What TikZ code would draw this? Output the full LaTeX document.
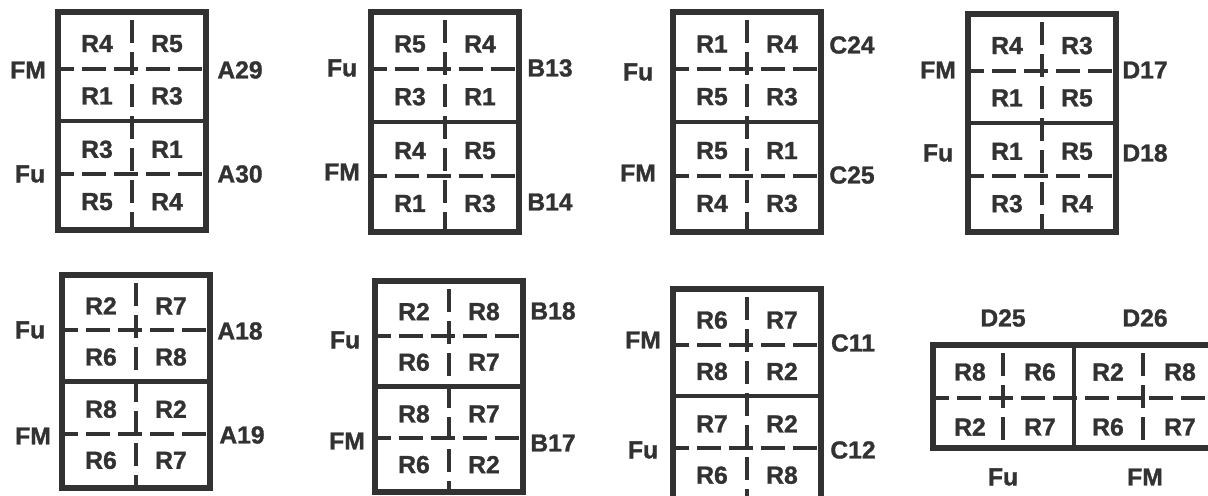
\documentclass[tikz,border=0pt]{standalone}
\usepackage{fontspec}
\setmainfont{Liberation Sans}[BoldFeatures={FakeBold=1.2}]
\usepackage{tikz}
\definecolor{ink}{RGB}{50,50,50}
\tikzset{
  frame/.style={draw=ink, line width=5pt},
  split/.style={draw=ink, line width=3.4pt},
  hcut/.style={draw=ink, line width=3pt, dash pattern=on 18pt off 6pt, dash phase=6pt},
  vcut/.style={draw=ink, line width=2.8pt, dash pattern=on 17pt off 7pt, dash phase=18pt},
  cell/.style={text=ink, font=\fontsize{18.5}{20}\selectfont\bfseries, inner sep=0pt},
  tag/.style={cell},
}

\begin{document}
\begin{tikzpicture}[x=0.75pt, y=-0.75pt]
  \useasboundingbox (0,0) rectangle (1208,496);
  \clip (0,0) rectangle (1208,496);

  % upright plates: left, top, height, then the cells row by row
  \foreach \px/\py/\ph/\ra/\rb/\rc/\rd/\re/\rf/\rg/\rh [count=\i] in {
      58/12/218/R4/R5/R1/R3/R3/R1/R5/R4,
      371/12/220/R5/R4/R3/R1/R4/R5/R1/R3,
      673/12/220/R1/R4/R5/R3/R5/R1/R4/R3,
      968/14/218/R4/R3/R1/R5/R1/R5/R3/R4,
      62/275/213/R2/R7/R6/R8/R8/R2/R6/R7,
      375/281/211/R2/R8/R6/R7/R8/R7/R6/R2,
      673/289/214/R6/R7/R8/R2/R7/R2/R6/R8}
  {
    \draw[vcut] (\px+74,\py) -- (\px+74,\py+\ph);
    \draw[hcut] (\px,\py+0.26*\ph) -- (\px+148,\py+0.26*\ph);
    \draw[hcut] (\px,\py+0.745*\ph) -- (\px+148,\py+0.745*\ph);
    \draw[split] (\px,\py+0.5*\ph) -- (\px+148,\py+0.5*\ph);
    \draw[frame] (\px,\py) rectangle (\px+148,\py+\ph);
    \node[cell] (p\i-1) at (\px+39,\py+0.145*\ph) {\ra};
    \node[cell] (p\i-2) at (\px+109,\py+0.145*\ph) {\rb};
    \node[cell] (p\i-3) at (\px+39,\py+0.385*\ph) {\rc};
    \node[cell] (p\i-4) at (\px+109,\py+0.385*\ph) {\rd};
    \node[cell] (p\i-5) at (\px+39,\py+0.63*\ph) {\re};
    \node[cell] (p\i-6) at (\px+109,\py+0.63*\ph) {\rf};
    \node[cell] (p\i-7) at (\px+39,\py+0.87*\ph) {\rg};
    \node[cell] (p\i-8) at (\px+109,\py+0.87*\ph) {\rh};
  }

  % flat plate D25/D26
  \draw[vcut] (1003,345) -- (1003,448);
  \draw[vcut] (1143,345) -- (1143,448);
  \draw[hcut] (933,398) -- (1215,398);
  \draw[split] (1074,345) -- (1074,448);
  \draw[frame] (933,345) rectangle (1215,448);
  \node[cell] (q1) at (970,372) {R8};
  \node[cell] (q2) at (1040,372) {R6};
  \node[cell] (q3) at (1108,372) {R2};
  \node[cell] (q4) at (1180,372) {R8};
  \node[cell] (q5) at (970,427) {R2};
  \node[cell] (q6) at (1040,427) {R7};
  \node[cell] (q7) at (1108,427) {R6};
  \node[cell] (q8) at (1180,427) {R7};

  % side labels
  \node[tag] (fm1) at (28,70)   {FM};
  \node[tag] (a29) at (240,70)  {A29};
  \node[tag] (fu1) at (30,174)  {Fu};
  \node[tag] (a30) at (240,174) {A30};

  \node[tag] (fu2) at (342,68)  {Fu};
  \node[tag] (b13) at (550,68)  {B13};
  \node[tag] (fm2) at (342,172) {FM};
  \node[tag] (b14) at (550,202) {B14};

  \node[tag] (fu3) at (638,72)  {Fu};
  \node[tag] (c24) at (852,45)  {C24};
  \node[tag] (fm3) at (638,173) {FM};
  \node[tag] (c25) at (852,175) {C25};

  \node[tag] (fm4) at (938,70)   {FM};
  \node[tag] (d17) at (1145,70)  {D17};
  \node[tag] (fu4) at (938,153)  {Fu};
  \node[tag] (d18) at (1145,153) {D18};

  \node[tag] (fu5) at (30,330)  {Fu};
  \node[tag] (a18) at (240,331) {A18};
  \node[tag] (fm5) at (33,436)  {FM};
  \node[tag] (a19) at (242,435) {A19};

  \node[tag] (fu6) at (345,340) {Fu};
  \node[tag] (b18) at (553,311) {B18};
  \node[tag] (fm6) at (347,441) {FM};
  \node[tag] (b17) at (553,443) {B17};

  \node[tag] (fm7) at (643,340) {FM};
  \node[tag] (c11) at (853,343) {C11};
  \node[tag] (fu7) at (643,450) {Fu};
  \node[tag] (c12) at (853,450) {C12};

  \node[tag] (d25) at (1003,318) {D25};
  \node[tag] (d26) at (1145,318) {D26};
  \node[tag] (fu8) at (1003,477) {Fu};
  \node[tag] (fm8) at (1145,477) {FM};
\end{tikzpicture}
\end{document}
